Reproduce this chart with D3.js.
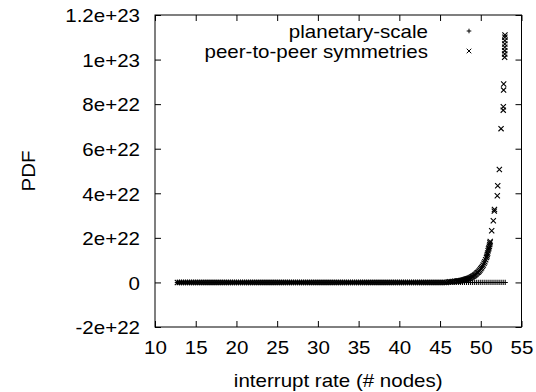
<!DOCTYPE html>
<html>
<head>
<meta charset="utf-8">
<script src="https://cdn.jsdelivr.net/npm/d3@7"></script>
<style>
  html, body { margin: 0; padding: 0; background: #fff; }
  svg { display: block; }
  text { font-family: "Liberation Sans", Arial, Helvetica, sans-serif; fill: #000; }
</style>
</head>
<body>
<svg id="chart" width="536" height="392"></svg>
<script>
// Tick positions and their printed labels
const xTicks = [10, 15, 20, 25, 30, 35, 40, 45, 50, 55];
const xTickLabels = ["10", "15", "20", "25", "30", "35", "40", "45", "50", "55"];
const yTicks = [-2e22, 0, 2e22, 4e22, 6e22, 8e22, 1e23, 1.2e23];
const yTickLabels = ["-2e+22", "0", "2e+22", "4e+22", "6e+22", "8e+22", "1e+23", "1.2e+23"];

const seriesNames = ["planetary-scale", "peer-to-peer symmetries"];

// Sampled interrupt rates on the flat part of both curves
const rates = [
  12.75,
  13, 13.25, 13.5, 13.75, 14, 14.25, 14.5, 14.75, 15, 15.25, 15.5, 15.75,
  16, 16.25, 16.5, 16.75, 17, 17.25, 17.5, 17.75, 18, 18.25, 18.5, 18.75,
  19, 19.25, 19.5, 19.75, 20, 20.25, 20.5, 20.75, 21, 21.25, 21.5, 21.75,
  22, 22.25, 22.5, 22.75, 23, 23.25, 23.5, 23.75, 24, 24.25, 24.5, 24.75,
  25, 25.25, 25.5, 25.75, 26, 26.25, 26.5, 26.75, 27, 27.25, 27.5, 27.75,
  28, 28.25, 28.5, 28.75, 29, 29.25, 29.5, 29.75, 30, 30.25, 30.5, 30.75,
  31, 31.25, 31.5, 31.75, 32, 32.25, 32.5, 32.75, 33, 33.25, 33.5, 33.75,
  34, 34.25, 34.5, 34.75, 35, 35.25, 35.5, 35.75, 36, 36.25, 36.5, 36.75,
  37, 37.25, 37.5, 37.75, 38, 38.25, 38.5, 38.75, 39, 39.25, 39.5, 39.75,
  40, 40.25, 40.5, 40.75, 41, 41.25, 41.5, 41.75, 42, 42.25, 42.5, 42.75,
  43, 43.25, 43.5, 43.75, 44, 44.25, 44.5, 44.75, 45, 45.25, 45.5, 45.75,
  46, 46.25, 46.5, 46.75, 47, 47.25, 47.5, 47.75, 48, 48.25, 48.5, 48.75,
  49, 49.25, 49.5, 49.75, 50, 50.25, 50.5, 50.75, 51, 51.25, 51.5, 51.75,
  52, 52.25, 52.5, 52.75, 53
];

// planetary-scale PDF at every sampled rate
const planetaryPdf = [
  0, 0, 0, 0, 0, 0, 0, 0, 0, 0,  0, 0, 0, 0, 0, 0, 0, 0, 0, 0,
  0, 0, 0, 0, 0, 0, 0, 0, 0, 0,  0, 0, 0, 0, 0, 0, 0, 0, 0, 0,
  0, 0, 0, 0, 0, 0, 0, 0, 0, 0,  0, 0, 0, 0, 0, 0, 0, 0, 0, 0,
  0, 0, 0, 0, 0, 0, 0, 0, 0, 0,  0, 0, 0, 0, 0, 0, 0, 0, 0, 0,
  0, 0, 0, 0, 0, 0, 0, 0, 0, 0,  0, 0, 0, 0, 0, 0, 0, 0, 0, 0,
  0, 0, 0, 0, 0, 0, 0, 0, 0, 0,  0, 0, 0, 0, 0, 0, 0, 0, 0, 0,
  0, 0, 0, 0, 0, 0, 0, 0, 0, 0,  0, 0, 0, 0, 0, 0, 0, 0, 0, 0,
  0, 0, 0, 0, 0, 0, 0, 0, 0, 0,  0, 0, 0, 0, 0, 0, 0, 0, 0, 0,
  0, 0
];

// peer-to-peer PDF on the flat part (rates below 46)
const p2pFlatPdf = [
  0, 0, 0, 0, 0, 0, 0, 0, 0, 0,  0, 0, 0, 0, 0, 0, 0, 0, 0, 0,
  0, 0, 0, 0, 0, 0, 0, 0, 0, 0,  0, 0, 0, 0, 0, 0, 0, 0, 0, 0,
  0, 0, 0, 0, 0, 0, 0, 0, 0, 0,  0, 0, 0, 0, 0, 0, 0, 0, 0, 0,
  0, 0, 0, 0, 0, 0, 0, 0, 0, 0,  0, 0, 0, 0, 0, 0, 0, 0, 0, 0,
  0, 0, 0, 0, 0, 0, 0, 0, 0, 0,  0, 0, 0, 0, 0, 0, 0, 0, 0, 0,
  0, 0, 0, 0, 0, 0, 0, 0, 0, 0,  0, 0, 0, 0, 0, 0, 0, 0, 0, 0,
  0, 0, 0, 0, 0, 0, 0, 0, 0, 0,  0, 0, 0
];

// peer-to-peer rising tail: rates and PDF (in units of 1e22)
const p2pTailRate = [
  46.0, 46.2, 46.4, 46.6, 46.8, 47.0, 47.1, 47.2, 47.3, 47.4,
  47.5, 47.6, 47.7, 47.8, 47.9, 48.0, 48.1, 48.2, 48.3, 48.4,
  48.5, 48.6, 48.7, 48.8, 48.9, 49.0, 49.1, 49.2, 49.3, 49.4,
  49.5, 49.6, 49.7, 49.8, 49.9, 50.0, 50.1, 50.2, 50.3, 50.4,
  50.5, 50.6, 50.7, 50.75, 50.8, 50.85, 50.9, 50.95, 51.0, 51.05,
  51.1, 51.13, 51.16, 51.34, 51.54, 51.66, 51.68, 52.03, 52.08, 52.28,
  52.49, 52.76, 52.77, 52.8, 52.81, 52.93, 52.94, 52.94, 52.95, 52.95,
  52.96, 52.96, 52.97
];
const p2pTailPdf = [
  0.02, 0.03, 0.03, 0.04, 0.05, 0.05, 0.06, 0.06, 0.07, 0.07,
  0.08, 0.09, 0.09, 0.10, 0.11, 0.12, 0.13, 0.14, 0.15, 0.16,
  0.18, 0.19, 0.21, 0.22, 0.24, 0.27, 0.29, 0.31, 0.34, 0.37,
  0.41, 0.44, 0.47, 0.51, 0.56, 0.61, 0.66, 0.72, 0.78, 0.86,
  0.93, 1.02, 1.12, 1.18, 1.25, 1.32, 1.42, 1.50, 1.55, 1.62,
  1.70, 1.78, 1.84, 2.32, 2.77, 3.20, 3.27, 3.89, 4.34, 5.07,
  6.90, 7.73, 7.88, 8.63, 8.90, 10.10, 10.25, 10.40, 10.55, 10.70,
  10.85, 11.00, 11.10
];

const W = 536, H = 392;
const plot = { left: 155, right: 521.5, top: 15, bottom: 327 };
const FONT = 19, STRETCH = 1.08, TICK = 6;

const svg = d3.select("#chart");

const x = d3.scaleLinear().domain([10, 55]).range([plot.left, plot.right]);
const y = d3.scaleLinear().domain([-2e22, 1.2e23]).range([plot.bottom, plot.top]);

// Widen glyphs slightly, as the printed font runs a little broad
function widen(sel) {
  sel.each(function () {
    const len = this.getComputedTextLength();
    d3.select(this).attr("textLength", len * STRETCH).attr("lengthAdjust", "spacingAndGlyphs");
  });
}

// Axes with inward ticks, mirrored on the opposite sides
const gLeft = svg.append("g").attr("transform", `translate(${plot.left},0)`)
  .call(d3.axisLeft(y).tickValues(yTicks).tickSize(-TICK).tickPadding(15)
    .tickFormat((d, i) => yTickLabels[i]));
const gRight = svg.append("g").attr("transform", `translate(${plot.right},0)`)
  .call(d3.axisRight(y).tickValues(yTicks).tickSize(-TICK).tickFormat(""));
const gBottom = svg.append("g").attr("transform", `translate(0,${plot.bottom})`)
  .call(d3.axisBottom(x).tickValues(xTicks).tickSize(-TICK)
    .tickFormat((d, i) => xTickLabels[i]));
const gTop = svg.append("g").attr("transform", `translate(0,${plot.top})`)
  .call(d3.axisTop(x).tickValues(xTicks).tickSize(-TICK).tickFormat(""));

[gLeft, gRight, gBottom, gTop].forEach(g => {
  g.select(".domain").remove();
  g.selectAll(".tick line").attr("stroke", "#000").attr("stroke-width", 1);
  g.selectAll(".tick text").attr("font-size", FONT).attr("fill", "#000")
    .attr("font-family", "Liberation Sans, Arial, sans-serif");
});
gLeft.selectAll(".tick text").attr("dy", null).attr("y", 6.8);
gBottom.selectAll(".tick text").attr("dy", null).attr("y", 26.5);
gLeft.selectAll(".tick text").call(widen);
gBottom.selectAll(".tick text").call(widen);

// Frame
svg.append("rect")
  .attr("x", plot.left).attr("y", plot.top)
  .attr("width", plot.right - plot.left).attr("height", plot.bottom - plot.top)
  .attr("fill", "none").attr("stroke", "#000").attr("stroke-width", 1);

// Axis titles
svg.append("text")
  .attr("x", (plot.left + plot.right) / 2).attr("y", 386.5)
  .attr("text-anchor", "middle").attr("font-size", FONT)
  .text("interrupt rate (# nodes)").call(widen);
svg.append("text")
  .attr("transform", `translate(34.5,${(plot.top + plot.bottom) / 2}) rotate(-90)`)
  .attr("text-anchor", "middle").attr("font-size", FONT)
  .text("PDF").call(widen);

// Point markers
const R = 2.6;
const plusPath = `M${-R},0H${R}M0,${-R}V${R}`;
const crossPath = `M${-R},${-R}L${R},${R}M${-R},${R}L${R},${-R}`;
const LR = 2.3;
const legendPlus = `M${-LR},0H${LR}M0,${-LR}V${LR}`;
const legendCross = `M${-LR},${-LR}L${LR},${LR}M${-LR},${LR}L${LR},${-LR}`;

const planetary = rates.map((r, i) => ({ rate: r, pdf: planetaryPdf[i] }));
const p2p = p2pFlatPdf.map((v, i) => ({ rate: rates[i], pdf: v }))
  .concat(p2pTailRate.map((r, i) => ({ rate: r, pdf: p2pTailPdf[i] * 1e22 })));

svg.append("g").selectAll("path").data(planetary).join("path")
  .attr("transform", d => `translate(${x(d.rate)},${y(d.pdf)})`)
  .attr("d", plusPath).attr("stroke", "#000").attr("stroke-width", 1.1).attr("fill", "none");

svg.append("g").selectAll("path").data(p2p).join("path")
  .attr("transform", d => `translate(${x(d.rate)},${y(d.pdf)})`)
  .attr("d", crossPath).attr("stroke", "#000").attr("stroke-width", 1.1).attr("fill", "none");

// Legend
const legend = svg.append("g");
const legendRows = [
  { name: seriesNames[0], path: legendPlus, y: 31 },
  { name: seriesNames[1], path: legendCross, y: 51 }
];
legendRows.forEach(row => {
  legend.append("text")
    .attr("x", 428).attr("y", row.y + 6.8)
    .attr("text-anchor", "end").attr("font-size", FONT)
    .text(row.name).call(widen);
  legend.append("path")
    .attr("transform", `translate(469,${row.y})`)
    .attr("d", row.path).attr("stroke", "#000").attr("stroke-width", 1).attr("fill", "none");
});
</script>
</body>
</html>
